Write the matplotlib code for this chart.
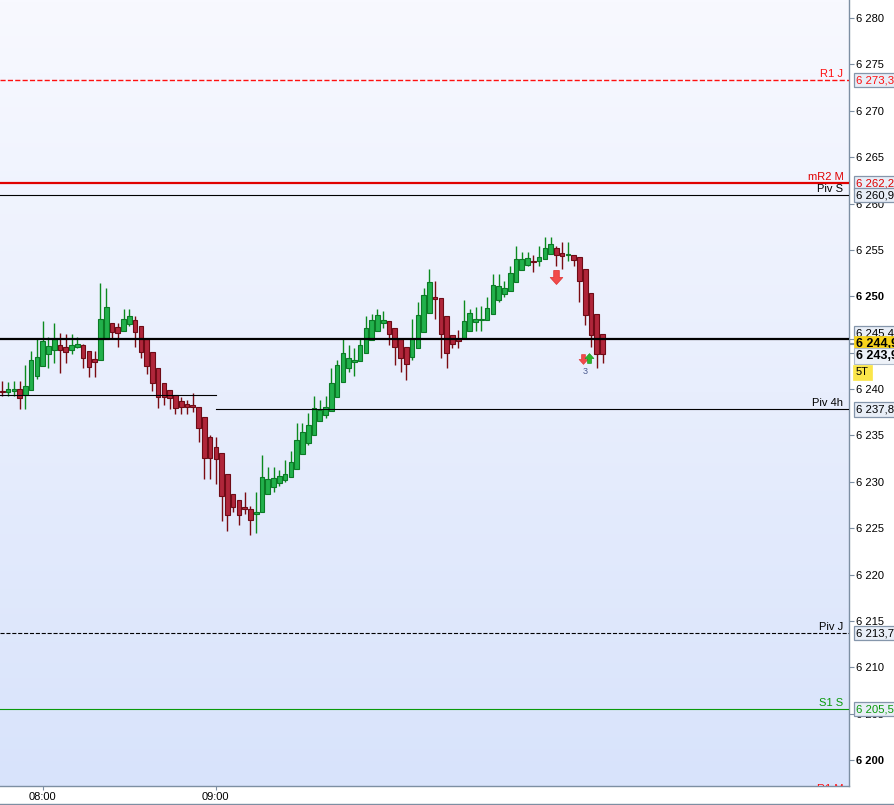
import numpy as np
import matplotlib
matplotlib.use('Agg')
import matplotlib.pyplot as plt
from matplotlib.path import Path
from matplotlib.lines import Line2D

plt.rcParams['font.family'] = ['Liberation Sans', 'DejaVu Sans']

# 2-minute candles, first one at 07:46
opens = [6239.8, 6239.7, 6239.8, 6240.0, 6239.4, 6239.9, 6241.4, 6242.5, 6243.8, 6244.2,
         6244.8, 6244.5, 6244.2, 6244.5, 6244.8, 6244.1, 6243.2, 6243.1, 6245.4, 6247.1,
         6246.7, 6246.3, 6247.0, 6247.4, 6246.8, 6245.4, 6244.0, 6242.3, 6240.7, 6239.9,
         6239.4, 6238.7, 6238.4, 6238.3, 6238.1, 6237.0, 6234.8, 6233.7, 6233.1, 6230.8,
         6228.7, 6228.0, 6227.3, 6227.1, 6226.5, 6226.7, 6228.7, 6229.4, 6229.9, 6230.2,
         6230.5, 6231.4, 6233.0, 6234.2, 6235.1, 6236.6, 6237.2, 6237.6, 6239.1, 6240.8,
         6242.3, 6242.9, 6243.0, 6243.9, 6245.3, 6246.3, 6247.1, 6247.3, 6246.6, 6245.4,
         6244.5, 6243.5, 6244.4, 6246.2, 6248.2, 6249.9, 6249.8, 6247.9, 6245.8, 6245.4,
         6245.5, 6246.3, 6247.2, 6247.4, 6247.4, 6248.1, 6249.6, 6250.3, 6250.6, 6251.5,
         6252.8, 6253.4, 6253.8, 6253.8, 6254.0, 6254.6, 6255.2, 6254.7, 6254.5, 6254.5,
         6254.2, 6252.9, 6250.4, 6248.1, 6245.9]
highs = [6240.9, 6240.8, 6240.9, 6240.9, 6242.6, 6244.1, 6245.4, 6247.3, 6245.6, 6247.1,
         6246.0, 6245.9, 6245.9, 6245.6, 6244.9, 6244.1, 6244.1, 6251.4, 6250.9, 6247.1,
         6247.1, 6248.6, 6248.6, 6247.9, 6246.8, 6245.4, 6244.0, 6242.3, 6240.7, 6239.9,
         6239.4, 6239.1, 6238.8, 6239.6, 6238.1, 6237.0, 6235.0, 6234.8, 6233.1, 6230.8,
         6228.7, 6228.0, 6228.9, 6227.4, 6228.9, 6232.9, 6231.6, 6231.6, 6231.3, 6232.3,
         6233.3, 6236.3, 6236.3, 6237.4, 6239.3, 6238.8, 6239.3, 6242.3, 6243.1, 6245.4,
         6244.8, 6244.4, 6245.4, 6247.9, 6248.1, 6248.6, 6248.4, 6247.3, 6246.6, 6245.4,
         6244.5, 6247.5, 6249.4, 6250.9, 6252.9, 6251.6, 6249.8, 6247.9, 6245.8, 6246.4,
         6249.6, 6248.6, 6248.8, 6249.0, 6249.9, 6252.4, 6252.4, 6251.6, 6253.3, 6255.4,
         6254.8, 6254.8, 6254.5, 6255.4, 6256.4, 6256.4, 6255.4, 6255.8, 6255.8, 6254.5,
         6254.2, 6252.9, 6250.4, 6248.1, 6245.9]
lows = [6239.2, 6239.2, 6239.2, 6237.8, 6237.9, 6239.9, 6241.1, 6242.5, 6242.3, 6242.8,
        6241.7, 6242.8, 6243.8, 6244.4, 6242.3, 6241.3, 6241.3, 6243.1, 6245.4, 6245.5,
        6244.5, 6246.3, 6246.8, 6244.5, 6243.3, 6241.6, 6239.8, 6238.0, 6238.3, 6237.8,
        6237.3, 6237.3, 6237.3, 6237.5, 6234.3, 6230.3, 6230.3, 6229.8, 6225.8, 6224.7,
        6226.8, 6225.3, 6226.5, 6224.3, 6224.5, 6226.7, 6228.7, 6228.9, 6229.5, 6230.0,
        6230.5, 6231.4, 6233.0, 6234.0, 6235.1, 6236.6, 6236.9, 6237.6, 6239.1, 6240.8,
        6241.8, 6241.4, 6243.0, 6243.9, 6245.3, 6246.3, 6246.6, 6244.8, 6242.6, 6241.8,
        6241.0, 6243.1, 6244.4, 6246.2, 6248.2, 6247.5, 6243.3, 6242.3, 6244.4, 6244.4,
        6245.5, 6246.3, 6246.3, 6246.3, 6247.4, 6248.1, 6249.4, 6249.9, 6250.6, 6251.5,
        6252.8, 6253.3, 6252.6, 6253.3, 6254.0, 6254.6, 6253.3, 6252.9, 6253.8, 6253.3,
        6249.4, 6246.9, 6244.5, 6242.3, 6242.8]
closes = [6239.7, 6240.0, 6240.0, 6239.0, 6240.3, 6243.1, 6243.5, 6245.2, 6244.6, 6245.4,
          6244.2, 6244.0, 6244.8, 6244.9, 6243.4, 6242.4, 6242.9, 6247.6, 6248.8, 6246.2,
          6246.0, 6247.6, 6247.9, 6246.1, 6244.0, 6242.5, 6240.6, 6239.1, 6239.1, 6239.0,
          6238.0, 6238.1, 6238.1, 6238.1, 6235.8, 6232.6, 6232.6, 6232.5, 6228.5, 6226.4,
          6227.3, 6226.4, 6227.1, 6225.9, 6226.8, 6230.5, 6230.3, 6230.4, 6230.6, 6230.8,
          6232.1, 6234.5, 6235.4, 6236.1, 6238.0, 6237.7, 6238.1, 6240.6, 6242.6, 6243.9,
          6243.4, 6243.1, 6244.8, 6246.6, 6247.4, 6248.0, 6247.4, 6245.9, 6244.5, 6243.4,
          6242.7, 6245.4, 6248.0, 6250.1, 6251.5, 6249.7, 6245.9, 6243.9, 6244.9, 6245.2,
          6247.3, 6248.2, 6247.5, 6247.5, 6248.7, 6251.2, 6251.1, 6250.9, 6252.5, 6254.0,
          6254.0, 6254.1, 6253.7, 6254.2, 6255.2, 6255.6, 6254.4, 6254.3, 6254.6, 6253.9,
          6251.6, 6248.0, 6245.8, 6243.8, 6243.8]

time_ticks = [7, 37]
time_labels = ['08:00', '09:00']
price_ticks = list(range(6200, 6285, 5))

# pivot levels drawn over the whole width
level_names = ['R1 J', 'mR2 M', 'Piv S', 'Piv J', 'S1 S', 'R1 M']
level_prices = [6273.3, 6262.2, 6260.9, 6213.7, 6205.5, 6196.2]
level_colors = ['#ff1010', '#e00000', 'black', 'black', '#0a9a0a', '#ff1010']
level_styles = ['--', '-', '-', '--', '-', '-']
level_widths = [1.0, 1.6, 0.8, 0.8, 0.8, 0.8]

last_close_line = 6245.4
piv4h_prev = 6239.4
piv4h = 6237.8
piv4h_start = 37

bid_price = 6244.9
last_price = 6243.9

# signals
sell_big_x, sell_big_y = [96], [6252.1]
sell_small_x, sell_small_y = [100.55], [6243.2]
buy_small_x, buy_small_y = [101.6], [6243.4]
count_x, count_y, count_txt = 101.0, 6241.9, '3'


def fmt(p, dec=1):
    s = f"{p:,.{dec}f}"
    return s.replace(',', ' ').replace('.', ',')


fig = plt.figure(figsize=(8.94, 8.05), dpi=100, facecolor='white')
ax = fig.add_axes([0, 19 / 805, 849 / 894, 786 / 805])

x0, x1 = -0.4, 146.7
y0, y1 = 6197.21, 6281.94
ax.set_xlim(x0, x1)
ax.set_ylim(y0, y1)

# background gradient
top = np.array([248, 249, 255]) / 255
bot = np.array([216, 227, 251]) / 255
t = np.linspace(0, 1, 256)[:, None]
grad = (top * (1 - t) + bot * t)[:, None, :]
ax.imshow(grad, extent=[0, 1, 0, 1], transform=ax.transAxes, aspect='auto', zorder=0)

# candles
x = np.arange(len(opens))
o = np.array(opens)
c = np.array(closes)
up = c >= o
fill = np.where(up, '#22b14c', '#b0263a')
edge = np.where(up, '#0b7a25', '#6e0b16')
wick = np.where(up, '#0b8a1e', '#7a0b12')
ax.vlines(x, lows, highs, colors=wick, lw=1.0, zorder=3)
height = np.maximum(np.abs(c - o), 0.1)
ax.bar(x, height, bottom=np.minimum(o, c), width=0.8, color=fill,
       edgecolor=edge, linewidth=0.8, zorder=4)

# levels
for name, p, col, ls, lw in zip(level_names, level_prices, level_colors, level_styles, level_widths):
    ax.axhline(p, color=col, ls=ls, lw=lw, zorder=5)
    ax.annotate(name, xy=(1, p), xycoords=('axes fraction', 'data'), xytext=(-4, 0.8),
                textcoords='offset points', ha='right', va='bottom', fontsize=8,
                color=col, zorder=6, annotation_clip=False, clip_on=True)

ax.axhline(last_close_line, color='black', lw=1.6, zorder=5)
ax.plot([x0, piv4h_start], [piv4h_prev, piv4h_prev], color='black', lw=0.8, zorder=5)
ax.plot([piv4h_start, x1], [piv4h, piv4h], color='black', lw=0.8, zorder=5)
ax.annotate('Piv 4h', xy=(1, piv4h), xycoords=('axes fraction', 'data'), xytext=(-4, 0.8),
            textcoords='offset points', ha='right', va='bottom', fontsize=8, color='black', zorder=6)

# arrows
down = Path([(-0.2, 0.5), (0.2, 0.5), (0.2, 0.0), (0.45, 0.0), (0, -0.5), (-0.45, 0.0),
             (-0.2, 0.0), (-0.2, 0.5)], closed=True)
upm = Path([(-0.2, -0.5), (0.2, -0.5), (0.2, 0.0), (0.45, 0.0), (0, 0.5), (-0.45, 0.0),
            (-0.2, 0.0), (-0.2, -0.5)], closed=True)
ax.plot(sell_big_x, sell_big_y, ls='none', marker=down, ms=10, mfc='#f24a4a', mec='#e03a3a',
        mew=0.6, zorder=6)
ax.plot(sell_small_x, sell_small_y, ls='none', marker=down, ms=7, mfc='#f24a4a', mec='#e03a3a',
        mew=0.5, zorder=6)
ax.plot(buy_small_x, buy_small_y, ls='none', marker=upm, ms=7, mfc='#2cb52c', mec='#1a9a1a',
        mew=0.5, zorder=6)
ax.text(count_x, count_y, count_txt, fontsize=6.5, color='#4a5a90', ha='center', va='center', zorder=6)

# axes styling
for s in ['top', 'left']:
    ax.spines[s].set_visible(False)
for s in ['right', 'bottom']:
    ax.spines[s].set_color('#7d8fa3')
    ax.spines[s].set_linewidth(1.0)

ax.yaxis.tick_right()
ax.set_yticks(price_ticks, labels=[fmt(v, 0) for v in price_ticks])
for lbl, v in zip(ax.get_yticklabels(), price_ticks):
    if v % 50 == 0:
        lbl.set_fontweight('bold')
        lbl.set_fontsize(9)
ax.set_yticks([last_close_line, bid_price, last_price], minor=True)
ax.tick_params(axis='y', which='both', direction='out', length=3.5, width=0.8, color='#7d8fa3',
               pad=1.5, labelsize=8, labelcolor='black')
ax.set_xticks(time_ticks, labels=time_labels)
ax.tick_params(axis='x', direction='out', length=3, width=0.8, color='#7d8fa3', pad=1.5,
               labelsize=8)

# right side value boxes
box = dict(boxstyle='square,pad=0.18', fc='#e8eef7', ec='#8596ab', lw=0.9)
right_boxes = [(6273.3, '#ff1010', 0), (6262.2, '#e00000', 0), (6260.9, 'black', 0),
               (6237.8, 'black', 0), (6213.7, 'black', 0), (6205.5, '#0a9a0a', 0)]
for p, col, dy in right_boxes:
    ax.annotate(fmt(p), xy=(1, p), xycoords=('axes fraction', 'data'), xytext=(5, dy),
                textcoords='offset points', ha='left', va='center', fontsize=8.2, color=col,
                bbox=box, zorder=7, annotation_clip=False)

ax.annotate(fmt(last_close_line), xy=(1, last_close_line), xycoords=('axes fraction', 'data'),
            xytext=(5, 4), textcoords='offset points', ha='left', va='center', fontsize=8.2,
            color='black', bbox=box, zorder=7, annotation_clip=False)
ax.annotate(fmt(bid_price), xy=(1, bid_price), xycoords=('axes fraction', 'data'),
            xytext=(5, 0), textcoords='offset points', ha='left', va='center', fontsize=9,
            fontweight='bold', color='black', zorder=8, annotation_clip=False,
            bbox=dict(boxstyle='square,pad=0.12', fc='#f7d21a', ec='#f7d21a', lw=0.5))
ax.annotate(fmt(last_price), xy=(1, last_price), xycoords=('axes fraction', 'data'),
            xytext=(5, -2.3), textcoords='offset points', ha='left', va='center', fontsize=9,
            fontweight='bold', color='black', zorder=8, annotation_clip=False,
            bbox=dict(boxstyle='square,pad=0.15', fc='#eef2f8', ec='#b0bccb', lw=0.8))
ax.annotate('5T', xy=(1, last_price), xycoords=('axes fraction', 'data'),
            xytext=(5, -14), textcoords='offset points', ha='left', va='center', fontsize=8,
            color='black', zorder=8, annotation_clip=False,
            bbox=dict(boxstyle='square,pad=0.25', fc='#fbe64a', ec='#fbe64a', lw=0.5))

fig.add_artist(Line2D([0, 1], [1.5 / 805, 1.5 / 805], color='#7d8fa3', lw=1.0))

fig.savefig('out.png', dpi=100, facecolor='white')
